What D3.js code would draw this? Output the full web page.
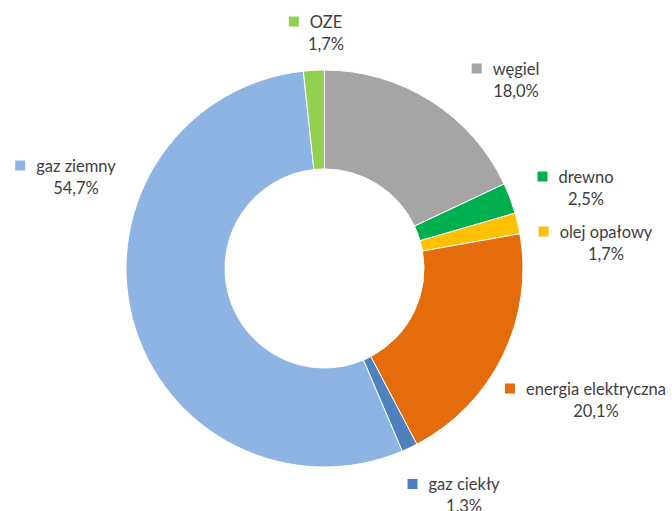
<!DOCTYPE html>
<html>
<head>
<meta charset="utf-8">
<script src="https://cdn.jsdelivr.net/npm/d3@7"></script>
<style>
  body { margin: 0; background: #fff; }
  svg text { font-family: Lato, "Open Sans", sans-serif; fill: #404040; }
</style>
</head>
<body>
<svg class="donut-chart"></svg>
<script>
const categories = ['węgiel', 'drewno', 'olej opałowy', 'energia elektryczna', 'gaz ciekły', 'gaz ziemny', 'OZE'];
const shares = [18.0, 2.5, 1.7, 20.1, 1.3, 54.7, 1.7];
const colors = ['#a5a5a5', '#00b050', '#ffc000', '#e46c0a', '#4f81bd', '#8eb4e3', '#92d050'];

// label anchors relative to the donut centre: [text centre x, first baseline y]
const labelPos = [
  [191.5, -194], [261.5, -86], [281.5, -31], [271.5, 126],
  [139.5, 221.5], [-248.5, -97], [1.5, -241]
];

const width = 672, height = 511;
const cx = 324.5, cy = 268.5;
const outerR = 198.5, innerR = 99.5;

const svg = d3.select('svg.donut-chart')
  .attr('width', width)
  .attr('height', height);

const data = categories.map((c, i) => ({ name: c, value: shares[i], color: colors[i] }));

const pie = d3.pie()
  .value(d => d.value)
  .sort(null);

const arc = d3.arc()
  .innerRadius(innerR)
  .outerRadius(outerR);

const g = svg.append('g')
  .attr('transform', `translate(${cx},${cy})`);

g.selectAll('path')
  .data(pie(data))
  .join('path')
  .attr('d', arc)
  .attr('fill', d => d.data.color)
  .attr('stroke', '#fff')
  .attr('stroke-width', 1);

const fmt = v => v.toFixed(1).replace('.', ',') + '%';

const labels = g.selectAll('g.label')
  .data(data)
  .join('g')
  .attr('class', 'label')
  .attr('transform', (d, i) => `translate(${labelPos[i][0]},${labelPos[i][1]})`);

labels.append('text')
  .attr('class', 'name')
  .attr('text-anchor', 'middle')
  .attr('font-size', 16.5)
  .text(d => d.name);

labels.append('text')
  .attr('text-anchor', 'middle')
  .attr('y', 22)
  .attr('font-size', 16.5)
  .text(d => fmt(d.value));

labels.each(function () {
  const lab = d3.select(this);
  const w = lab.select('text.name').node().getComputedTextLength();
  lab.append('rect')
    .attr('x', -w / 2 - 21)
    .attr('y', -11)
    .attr('width', 10)
    .attr('height', 10)
    .attr('fill', d => d.color);
});
</script>
</body>
</html>
